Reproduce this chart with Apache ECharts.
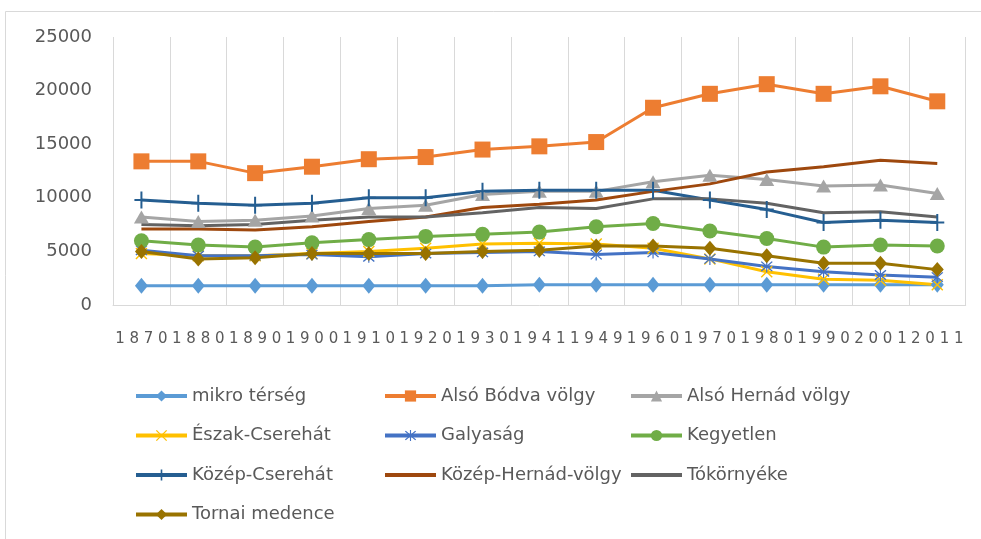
<!DOCTYPE html>
<html>
<head>
<meta charset="utf-8">
<script src="https://cdn.jsdelivr.net/npm/echarts@6/dist/echarts.min.js"></script>
<style>html,body{margin:0;padding:0;background:#fff}#c{width:981px;height:539px}</style>
</head>
<body>
<div id="c"></div>
<script>
var years = ['1870','1880','1890','1900','1910','1920','1930','1941','1949','1960','1970','1980','1990','2001','2011'];
var yTicks = [0, 5000, 10000, 15000, 20000, 25000];

var mikro        = [1800,1800,1800,1800,1800,1800,1800,1900,1900,1900,1900,1900,1900,1900,1900];
var alsoBodva    = [13400,13400,12300,12900,13600,13800,14500,14800,15200,18400,19700,20600,19700,20400,19000];
var alsoHernad   = [8200,7800,7900,8300,9000,9300,10300,10600,10600,11500,12100,11700,11100,11200,10400];
var eszak        = [4800,4600,4600,4800,5000,5300,5700,5750,5700,5300,4300,3100,2400,2300,1900];
var galyasag     = [5100,4600,4600,4700,4500,4800,4900,5000,4700,4900,4300,3600,3100,2800,2600];
var kegyetlen    = [6000,5600,5400,5800,6100,6400,6600,6800,7300,7600,6900,6200,5400,5600,5500];
var kozepCs      = [9800,9500,9300,9500,10000,10000,10600,10700,10700,10700,9800,8900,7700,7900,7700];
var kozepHern    = [7100,7100,7000,7300,7800,8200,9100,9400,9800,10600,11300,12400,12900,13500,13200];
var tokornyeke   = [7500,7400,7500,7900,8200,8200,8600,9100,9000,9900,9900,9500,8600,8700,8200];
var tornai       = [5000,4300,4400,4800,4800,4800,5000,5100,5500,5500,5300,4600,3900,3900,3300];

var names = ['mikro térség','Alsó Bódva völgy','Alsó Hernád völgy','Észak-Cserehát','Galyaság','Kegyetlen','Közép-Cserehát','Közép-Hernád-völgy','Tókörnyéke','Tornai medence'];

var xPath = 'path://M0,1 L1,0 L12,11 L11,12 Z M11,0 L12,1 L1,12 L0,11 Z';
var astPath = 'path://M0,1 L1,0 L12,11 L11,12 Z M11,0 L12,1 L1,12 L0,11 Z M5.4,-1 L6.6,-1 L6.6,13 L5.4,13 Z';
var plusPath = 'path://M6,0 L8,0 L8,17 L6,17 Z M0,7.5 L14,7.5 L14,9.5 L0,9.5 Z';

function mk(name, data, color, symbol, size) {
  return {
    name: name, type: 'line', data: data,
    symbol: symbol, symbolSize: size, showSymbol: symbol !== 'none',
    lineStyle: { width: 3, color: color },
    itemStyle: { color: color },
    emphasis: { disabled: true },
    animation: false
  };
}

var series = [
  mk(names[0], mikro, '#5B9BD5', 'diamond', [13,16]),
  mk(names[1], alsoBodva, '#ED7D31', 'rect', 16),
  mk(names[2], alsoHernad, '#A5A5A5', 'triangle', [15,13]),
  mk(names[3], eszak, '#FFC000', xPath, 12),
  mk(names[4], galyasag, '#4472C4', astPath, 12),
  mk(names[5], kegyetlen, '#70AD47', 'circle', 15),
  mk(names[6], kozepCs, '#255E91', plusPath, [14,17]),
  mk(names[7], kozepHern, '#9E480E', 'none', 0),
  mk(names[8], tokornyeke, '#636363', 'none', 0),
  mk(names[9], tornai, '#997300', 'diamond', [13,15])
];

function item(n) {
  if (n === names[7] || n === names[8]) {
    return { name: n, itemStyle: { color: 'rgba(0,0,0,0)', borderWidth: 0 } };
  }
  return { name: n };
}

function leg(left, data) {
  return {
    orient: 'vertical', left: left, top: 387, padding: 0,
    itemWidth: 51, itemHeight: 14, itemGap: 21.5,
    data: data.map(item),
    lineStyle: { width: 4 },
    textStyle: { fontFamily: 'DejaVu Sans', fontSize: 18, lineHeight: 18, color: '#595959' }
  };
}

var chart = echarts.init(document.getElementById('c'), null, { renderer: 'canvas' });
chart.setOption({
  backgroundColor: '#ffffff',
  animation: false,
  graphic: [{
    type: 'rect', shape: { x: 5.5, y: 11.5, width: 1000, height: 600 },
    style: { fill: 'none', stroke: '#d9d9d9', lineWidth: 1 }, silent: true
  }],
  grid: { left: 113, right: 15.3, top: 37, bottom: 234 },
  legend: [
    leg(134, [names[0], names[3], names[6], names[9]]),
    leg(383, [names[1], names[4], names[7]]),
    leg(629, [names[2], names[5], names[8]])
  ],
  xAxis: {
    type: 'category', data: years, boundaryGap: true,
    axisLine: { show: true, lineStyle: { color: '#d9d9d9', width: 1 } },
    axisTick: { show: false },
    splitLine: { show: true, lineStyle: { color: '#d9d9d9', width: 1 } },
    axisLabel: {
      interval: 0, margin: 27,
      fontFamily: 'DejaVu Sans', fontSize: 15, color: '#595959',
      formatter: function (v) { return v.split('').join(' '); }
    }
  },
  yAxis: {
    type: 'value', min: yTicks[0], max: yTicks[yTicks.length - 1], interval: 5000,
    axisLine: { show: false }, axisTick: { show: false },
    splitLine: { show: false },
    axisLabel: {
      margin: 21, fontFamily: 'DejaVu Sans', fontSize: 18, color: '#595959',
      formatter: function (v) { return String(v); }
    }
  },
  series: series
});
</script>
</body>
</html>
